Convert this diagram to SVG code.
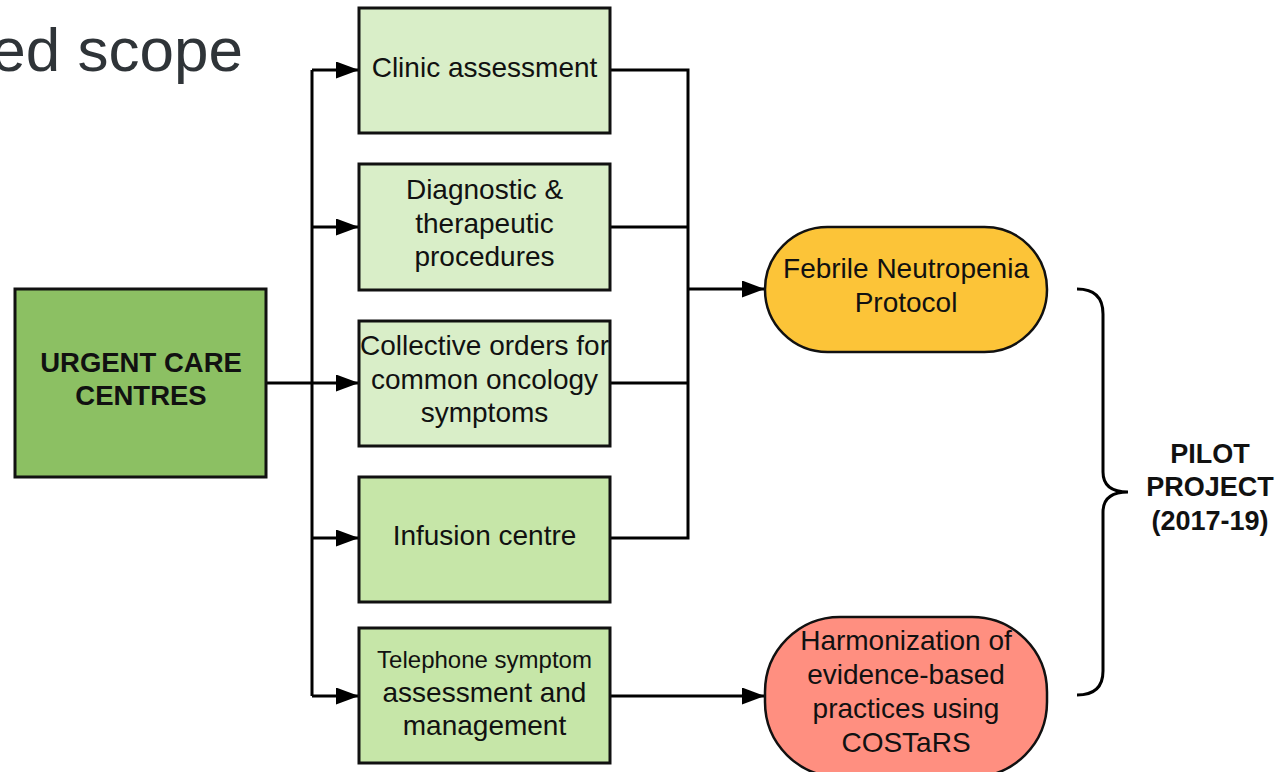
<svg xmlns="http://www.w3.org/2000/svg" width="1279" height="772" viewBox="0 0 1279 772">
<style>
.box{stroke:#111;stroke-width:3}
.lt{fill:#d9eec8}
.md{fill:#c6e6a8}
.t{font-family:"Liberation Sans",Arial,sans-serif;font-size:28px;fill:#111;text-anchor:middle}
.b{font-weight:bold;font-size:27px}
.u{font-size:27.5px}
.s{font-size:24px}
.c{fill:none;stroke:#000;stroke-width:3}
</style>
<defs>
<marker id="ah" markerUnits="userSpaceOnUse" markerWidth="24" markerHeight="18" refX="23" refY="8.5" orient="auto">
<path d="M0,0 L23,8.5 L0,17 z" fill="#000"/>
</marker>
</defs>
<rect width="1279" height="772" fill="#fff"/>
<text x="243" y="71" font-family="'Liberation Sans',Arial,sans-serif" font-size="62" fill="#2f3438" text-anchor="end">ed scope</text>

<g id="connectors">
<path class="c" d="M266,383 L312,383"/>
<path class="c" d="M312,70 L312,696"/>
<path class="c" d="M312,70 L359,70" marker-end="url(#ah)"/>
<path class="c" d="M312,227 L359,227" marker-end="url(#ah)"/>
<path class="c" d="M312,383 L359,383" marker-end="url(#ah)"/>
<path class="c" d="M312,538 L359,538" marker-end="url(#ah)"/>
<path class="c" d="M312,696 L359,696" marker-end="url(#ah)"/>
<path class="c" d="M610,70 L688,70 L688,538 L610,538"/>
<path class="c" d="M610,227 L688,227"/>
<path class="c" d="M610,383 L688,383"/>
<path class="c" d="M688,289 L765,289" marker-end="url(#ah)"/>
<path class="c" d="M610,696 L765,696" marker-end="url(#ah)"/>
<path d="M1077,289 Q1103,289 1103,314 L1103,472 Q1103,492 1128,492 Q1103,492 1103,512 L1103,671 Q1103,695 1077,695" fill="none" stroke="#000" stroke-width="3"/>
</g>

<g id="urgent">
<rect class="box" x="15" y="289" width="251" height="188" fill="#8cc063"/>
<text class="t b u" x="141" y="372">URGENT CARE</text>
<text class="t b u" x="141" y="405">CENTRES</text>
</g>
<g id="clinic">
<rect class="box lt" x="359" y="8" width="251" height="125"/>
<text class="t" x="484.5" y="77">Clinic assessment</text>
</g>
<g id="diagnostic">
<rect class="box lt" x="359" y="164" width="251" height="126"/>
<text class="t" x="484.5" y="199">Diagnostic &amp;</text>
<text class="t" x="484.5" y="233">therapeutic</text>
<text class="t" x="484.5" y="266">procedures</text>
</g>
<g id="collective">
<rect class="box lt" x="359" y="321" width="251" height="125"/>
<text class="t" x="484.5" y="355">Collective orders for</text>
<text class="t" x="484.5" y="389">common oncology</text>
<text class="t" x="484.5" y="422">symptoms</text>
</g>
<g id="infusion">
<rect class="box md" x="359" y="477" width="251" height="125"/>
<text class="t" x="484.5" y="545">Infusion centre</text>
</g>
<g id="telephone">
<rect class="box md" x="359" y="628" width="251" height="135"/>
<text class="t s" x="484.5" y="668">Telephone symptom</text>
<text class="t" x="484.5" y="702">assessment and</text>
<text class="t" x="484.5" y="735">management</text>
</g>
<g id="febrile">
<rect x="765" y="227" width="282" height="125" rx="62.5" fill="#fcc438" stroke="#111" stroke-width="2.5"/>
<text class="t" x="906" y="278">Febrile Neutropenia</text>
<text class="t" x="906" y="312">Protocol</text>
</g>
<g id="harmonization">
<rect x="765" y="617" width="282" height="160" rx="75" fill="#ff8f80" stroke="#111" stroke-width="2.5"/>
<text class="t" x="906" y="650">Harmonization of</text>
<text class="t" x="906" y="684">evidence-based</text>
<text class="t" x="906" y="718">practices using</text>
<text class="t" x="906" y="752">COSTaRS</text>
</g>
<g id="pilot">
<text class="t b" x="1210" y="463">PILOT</text>
<text class="t b" x="1210" y="496">PROJECT</text>
<text class="t b" x="1210" y="530">(2017-19)</text>
</g>
</svg>
